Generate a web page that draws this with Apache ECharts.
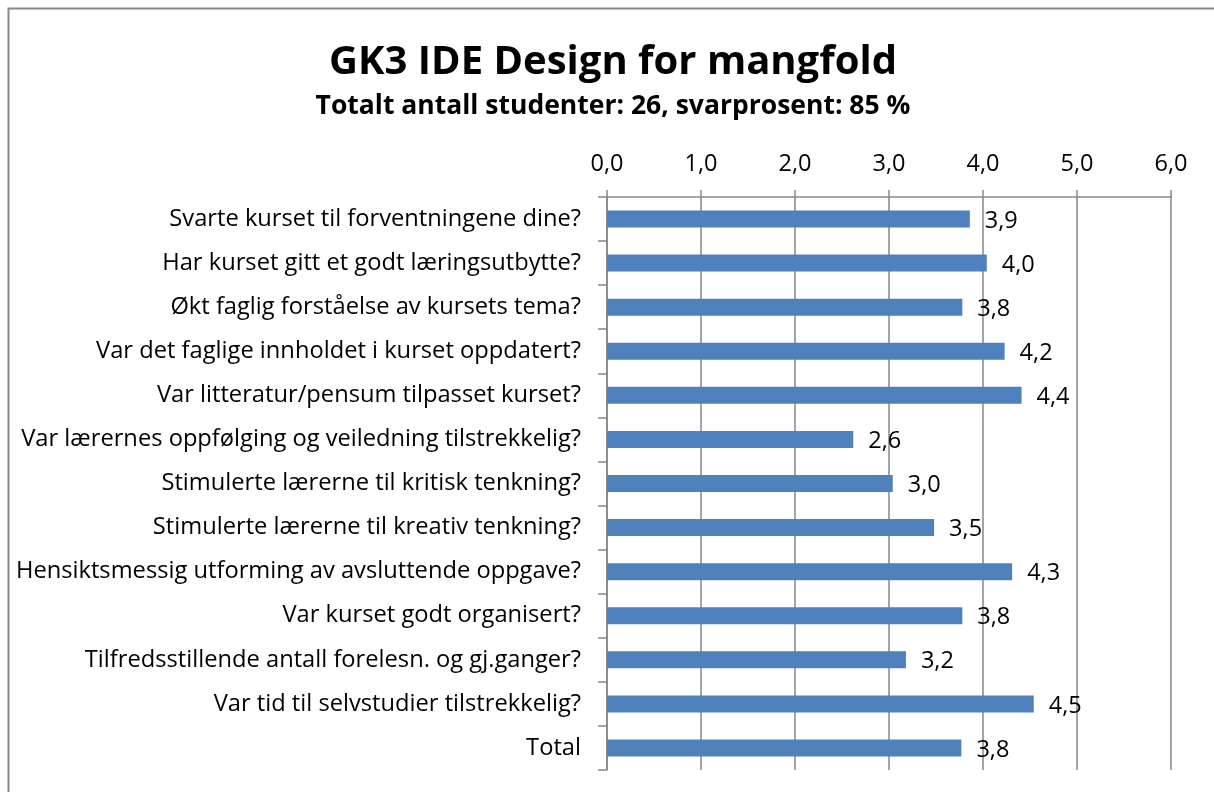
<!DOCTYPE html>
<html>
<head>
<meta charset="utf-8">
<script src="https://cdn.jsdelivr.net/npm/echarts@6/dist/echarts.min.js"></script>
<style>
  html, body { margin: 0; padding: 0; background: #fff; }
  #chart { width: 1214px; height: 792px; }
</style>
</head>
<body>
<div id="chart"></div>
<script>
// data
var categories = [
    'Svarte kurset til forventningene dine?',
    'Har kurset gitt et godt læringsutbytte?',
    'Økt faglig forståelse av kursets tema?',
    'Var det faglige innholdet i kurset oppdatert?',
    'Var litteratur/pensum tilpasset kurset?',
    'Var lærernes oppfølging og veiledning tilstrekkelig?',
    'Stimulerte lærerne til kritisk tenkning?',
    'Stimulerte lærerne til kreativ tenkning?',
    'Hensiktsmessig utforming av avsluttende oppgave?',
    'Var kurset godt organisert?',
    'Tilfredsstillende antall forelesn. og gj.ganger?',
    'Var tid til selvstudier tilstrekkelig?',
    'Total'
];
var scores = [3.86, 4.04, 3.78, 4.23, 4.41, 2.62, 3.04, 3.48, 4.31, 3.78, 3.18, 4.54, 3.77];
var tickValues = [0, 1, 2, 3, 4, 5, 6];

var FONT = 'Open Sans';
var GREY = '#868686';

function komma(v) {
    return v.toFixed(1).replace('.', ',');
}

var myChart = echarts.init(document.getElementById('chart'));

var option = {
    backgroundColor: '#fff',
    animation: false,
    textStyle: { fontFamily: FONT },
    title: [{
        text: 'GK3 IDE Design for mangfold',
        left: 613,
        textAlign: 'center',
        top: 43,
        padding: 0,
        textStyle: { fontFamily: FONT, fontSize: 40, fontWeight: 'bold', color: '#000' }
    }, {
        text: 'Totalt antall studenter: 26, svarprosent: 85 %',
        left: 613,
        textAlign: 'center',
        top: 93,
        padding: 0,
        textStyle: { fontFamily: FONT, fontSize: 26.5, fontWeight: 'bold', color: '#000' }
    }],
    graphic: [{
        type: 'rect',
        shape: { x: 8.5, y: 8.5, width: 1400, height: 1000 },
        style: { fill: 'none', stroke: '#888', lineWidth: 2 },
        silent: true
    }],
    grid: { left: 607, right: 43, top: 197, bottom: 22, containLabel: false },
    xAxis: {
        type: 'value',
        position: 'top',
        min: tickValues[0],
        max: tickValues[tickValues.length - 1],
        interval: 1,
        axisLine: { show: true, lineStyle: { color: GREY, width: 1.5 } },
        axisTick: { show: true, length: 7, lineStyle: { color: GREY, width: 1.5 } },
        splitLine: { show: true, lineStyle: { color: GREY, width: 1.5 } },
        axisLabel: {
            color: '#000', fontSize: 23.5, fontFamily: FONT, margin: 21,
            formatter: function (v) { return komma(v); }
        }
    },
    yAxis: {
        type: 'category',
        inverse: true,
        data: categories,
        axisLine: { show: true, lineStyle: { color: GREY, width: 1.5 } },
        axisTick: { show: true, length: 9, lineStyle: { color: GREY, width: 1.5 } },
        axisLabel: { color: '#000', fontSize: 23.7, fontFamily: FONT, margin: 26 }
    },
    series: [{
        type: 'bar',
        data: scores,
        barWidth: 17,
        itemStyle: { color: '#4F81BD' },
        label: {
            show: true,
            position: 'right',
            distance: 15,
            offset: [0, 2],
            color: '#000',
            fontSize: 23.5,
            fontFamily: FONT,
            formatter: function (p) { return komma(p.value); }
        }
    }]
};

myChart.setOption(option);
</script>
</body>
</html>
